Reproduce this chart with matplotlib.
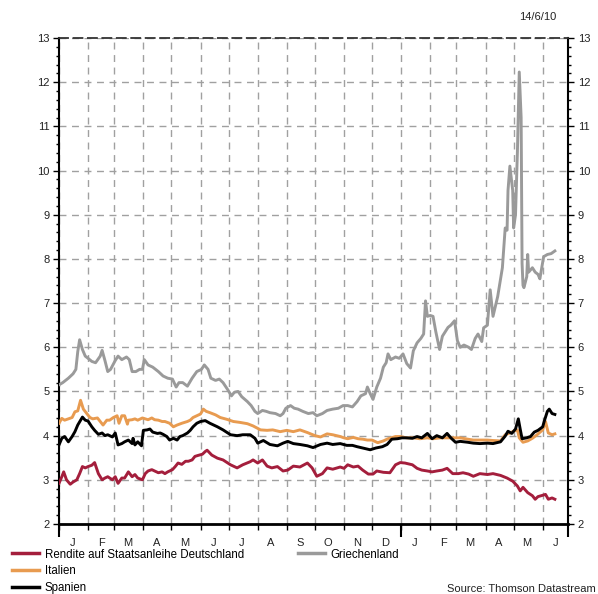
import pandas as pd
import matplotlib
matplotlib.use('Agg')
import matplotlib.pyplot as plt
import matplotlib.dates as mdates
from matplotlib.ticker import MultipleLocator, FixedLocator, NullFormatter
from matplotlib.lines import Line2D

plt.rcParams['font.family'] = ['Liberation Sans', 'DejaVu Sans']
plt.rcParams['font.size'] = 8

# ---- data (10y government bond yields, %) ----
gr_dates = [
    '2009-01-01', '2009-01-05', '2009-01-11', '2009-01-16', '2009-01-19', '2009-01-21', '2009-01-23',
    '2009-01-26', '2009-01-29', '2009-02-01', '2009-02-05', '2009-02-09', '2009-02-14', '2009-02-16',
    '2009-02-19', '2009-02-22', '2009-02-25', '2009-03-02', '2009-03-05', '2009-03-09', '2009-03-14',
    '2009-03-17', '2009-03-20', '2009-03-24', '2009-03-28', '2009-03-31', '2009-04-02', '2009-04-06',
    '2009-04-11', '2009-04-17', '2009-04-22', '2009-04-27', '2009-05-02', '2009-05-06', '2009-05-09',
    '2009-05-13', '2009-05-18', '2009-05-23', '2009-05-28', '2009-06-02', '2009-06-05', '2009-06-09',
    '2009-06-12', '2009-06-17', '2009-06-21', '2009-06-25', '2009-06-30', '2009-07-04', '2009-07-07',
    '2009-07-11', '2009-07-15', '2009-07-21', '2009-07-25', '2009-07-29', '2009-08-01', '2009-08-06',
    '2009-08-10', '2009-08-14', '2009-08-20', '2009-08-25', '2009-08-28', '2009-08-31', '2009-09-05',
    '2009-09-09', '2009-09-13', '2009-09-18', '2009-09-24', '2009-09-29', '2009-10-03', '2009-10-09',
    '2009-10-14', '2009-10-20', '2009-10-26', '2009-10-31', '2009-11-05', '2009-11-10', '2009-11-15',
    '2009-11-19', '2009-11-24', '2009-11-26', '2009-11-29', '2009-12-02', '2009-12-06', '2009-12-10',
    '2009-12-13', '2009-12-16', '2009-12-18', '2009-12-21', '2009-12-26', '2009-12-30', '2010-01-03',
    '2010-01-07', '2010-01-11', '2010-01-14', '2010-01-18', '2010-01-22', '2010-01-25', '2010-01-27',
    '2010-01-29', '2010-02-01', '2010-02-04', '2010-02-07', '2010-02-11', '2010-02-14', '2010-02-17',
    '2010-02-20', '2010-02-23', '2010-02-27', '2010-03-02', '2010-03-05', '2010-03-09', '2010-03-14',
    '2010-03-17', '2010-03-21', '2010-03-24', '2010-03-28', '2010-03-30', '2010-04-03', '2010-04-06',
    '2010-04-09', '2010-04-14', '2010-04-19', '2010-04-22', '2010-04-24', '2010-04-25', '2010-04-27',
    '2010-04-30', '2010-05-01', '2010-05-03', '2010-05-05', '2010-05-07', '2010-05-09', '2010-05-10',
    '2010-05-11', '2010-05-12', '2010-05-15', '2010-05-16', '2010-05-17', '2010-05-21', '2010-05-24',
    '2010-05-27', '2010-05-29', '2010-06-02', '2010-06-06', '2010-06-10', '2010-06-14']
gr_vals = [
    5.15, 5.20, 5.30, 5.40, 5.50, 5.90, 6.17, 5.95, 5.80, 5.75, 5.68, 5.65, 5.80, 5.93,
    5.70, 5.45, 5.50, 5.70, 5.80, 5.72, 5.78, 5.72, 5.45, 5.45, 5.50, 5.50, 5.72, 5.60,
    5.55, 5.45, 5.35, 5.30, 5.28, 5.10, 5.20, 5.20, 5.12, 5.30, 5.45, 5.50, 5.60, 5.50,
    5.30, 5.25, 5.28, 5.20, 5.04, 4.90, 4.98, 5.00, 4.88, 4.77, 4.68, 4.55, 4.50, 4.57,
    4.55, 4.52, 4.50, 4.45, 4.50, 4.62, 4.68, 4.62, 4.60, 4.55, 4.50, 4.52, 4.45, 4.50,
    4.57, 4.60, 4.62, 4.68, 4.68, 4.65, 4.77, 4.90, 4.95, 5.10, 4.95, 4.82, 5.10, 5.30,
    5.55, 5.65, 5.85, 5.72, 5.78, 5.75, 5.85, 5.63, 5.53, 5.92, 6.10, 6.20, 6.30, 7.05,
    6.70, 6.72, 6.70, 6.35, 5.95, 6.25, 6.35, 6.45, 6.50, 6.60, 6.15, 6.00, 6.05, 6.00,
    5.95, 6.20, 6.30, 6.13, 6.44, 6.50, 7.30, 6.70, 7.15, 7.80, 8.70, 8.65, 9.55, 10.10,
    9.55, 8.70, 9.00, 10.40, 12.23, 11.20, 7.90, 7.40, 7.35, 7.60, 8.10, 7.70, 7.80, 7.70,
    7.65, 7.55, 8.05, 8.10, 8.12, 8.18]

it_dates = [
    '2009-01-01', '2009-01-04', '2009-01-07', '2009-01-11', '2009-01-15', '2009-01-18', '2009-01-21',
    '2009-01-24', '2009-01-27', '2009-01-31', '2009-02-03', '2009-02-06', '2009-02-11', '2009-02-14',
    '2009-02-17', '2009-02-21', '2009-02-24', '2009-02-28', '2009-03-04', '2009-03-06', '2009-03-09',
    '2009-03-12', '2009-03-15', '2009-03-16', '2009-03-20', '2009-03-23', '2009-03-26', '2009-03-31',
    '2009-04-03', '2009-04-06', '2009-04-10', '2009-04-13', '2009-04-17', '2009-04-21', '2009-04-24',
    '2009-04-29', '2009-05-03', '2009-05-07', '2009-05-12', '2009-05-18', '2009-05-21', '2009-05-24',
    '2009-05-28', '2009-06-01', '2009-06-04', '2009-06-07', '2009-06-11', '2009-06-17', '2009-06-22',
    '2009-06-29', '2009-07-06', '2009-07-13', '2009-07-21', '2009-07-27', '2009-08-04', '2009-08-11',
    '2009-08-17', '2009-08-25', '2009-09-01', '2009-09-08', '2009-09-15', '2009-09-23', '2009-10-01',
    '2009-10-07', '2009-10-14', '2009-10-20', '2009-10-28', '2009-11-01', '2009-11-05', '2009-11-11',
    '2009-11-16', '2009-11-21', '2009-11-26', '2009-12-01', '2009-12-07', '2009-12-13', '2009-12-18',
    '2009-12-26', '2009-12-31', '2010-01-07', '2010-01-14', '2010-01-21', '2010-01-29', '2010-02-04',
    '2010-02-12', '2010-02-19', '2010-02-26', '2010-03-05', '2010-03-13', '2010-03-19', '2010-03-26',
    '2010-04-03', '2010-04-09', '2010-04-17', '2010-04-22', '2010-04-27', '2010-05-03', '2010-05-05',
    '2010-05-07', '2010-05-11', '2010-05-16', '2010-05-21', '2010-05-26', '2010-06-01', '2010-06-04',
    '2010-06-07', '2010-06-11', '2010-06-14']
it_vals = [
    4.28, 4.39, 4.35, 4.38, 4.41, 4.54, 4.56, 4.80, 4.60, 4.49, 4.41, 4.38, 4.40, 4.32,
    4.24, 4.35, 4.35, 4.41, 4.45, 4.28, 4.45, 4.45, 4.26, 4.35, 4.36, 4.38, 4.35, 4.40,
    4.38, 4.36, 4.40, 4.36, 4.35, 4.32, 4.32, 4.28, 4.20, 4.24, 4.28, 4.32, 4.35, 4.41,
    4.45, 4.49, 4.60, 4.55, 4.52, 4.47, 4.41, 4.37, 4.32, 4.30, 4.27, 4.22, 4.13, 4.12,
    4.13, 4.09, 4.12, 4.09, 4.13, 4.07, 4.00, 3.97, 4.04, 4.02, 3.98, 3.95, 3.93, 3.96,
    3.93, 3.92, 3.90, 3.90, 3.84, 3.88, 3.93, 3.98, 3.98, 3.95, 3.95, 3.93, 3.95, 3.93,
    3.95, 3.95, 3.95, 3.95, 3.92, 3.90, 3.90, 3.90, 3.89, 3.88, 4.02, 4.06, 4.12, 4.13,
    3.95, 3.85, 3.88, 3.94, 4.02, 4.13, 4.32, 4.06, 4.02, 4.04]

es_dates = [
    '2009-01-01', '2009-01-04', '2009-01-07', '2009-01-11', '2009-01-15', '2009-01-18', '2009-01-21',
    '2009-01-26', '2009-01-29', '2009-02-01', '2009-02-05', '2009-02-08', '2009-02-12', '2009-02-16',
    '2009-02-19', '2009-02-22', '2009-02-27', '2009-03-02', '2009-03-05', '2009-03-09', '2009-03-12',
    '2009-03-16', '2009-03-20', '2009-03-21', '2009-03-23', '2009-03-26', '2009-03-30', '2009-04-01',
    '2009-04-05', '2009-04-08', '2009-04-11', '2009-04-16', '2009-04-19', '2009-04-22', '2009-04-26',
    '2009-04-29', '2009-05-03', '2009-05-07', '2009-05-10', '2009-05-13', '2009-05-18', '2009-05-21',
    '2009-05-24', '2009-05-28', '2009-06-01', '2009-06-06', '2009-06-11', '2009-06-19', '2009-06-25',
    '2009-07-03', '2009-07-10', '2009-07-16', '2009-07-24', '2009-07-29', '2009-08-01', '2009-08-07',
    '2009-08-14', '2009-08-22', '2009-08-28', '2009-09-02', '2009-09-08', '2009-09-15', '2009-09-23',
    '2009-09-29', '2009-10-07', '2009-10-14', '2009-10-20', '2009-10-28', '2009-11-04', '2009-11-10',
    '2009-11-15', '2009-11-21', '2009-11-29', '2009-12-05', '2009-12-12', '2009-12-17', '2009-12-22',
    '2009-12-28', '2010-01-02', '2010-01-07', '2010-01-13', '2010-01-18', '2010-01-23', '2010-01-29',
    '2010-02-03', '2010-02-08', '2010-02-14', '2010-02-19', '2010-02-23', '2010-02-28', '2010-03-05',
    '2010-03-13', '2010-03-19', '2010-03-26', '2010-04-03', '2010-04-09', '2010-04-17', '2010-04-22',
    '2010-04-25', '2010-04-29', '2010-05-03', '2010-05-06', '2010-05-08', '2010-05-10', '2010-05-15',
    '2010-05-19', '2010-05-23', '2010-05-27', '2010-06-01', '2010-06-03', '2010-06-06', '2010-06-08',
    '2010-06-11', '2010-06-14']
es_vals = [
    3.79, 3.94, 3.98, 3.86, 3.98, 4.09, 4.24, 4.42, 4.35, 4.33, 4.20, 4.12, 4.03, 4.06,
    4.00, 4.02, 3.97, 4.06, 3.79, 3.82, 3.86, 3.90, 3.82, 3.94, 3.79, 3.86, 3.77, 4.12,
    4.13, 4.15, 4.08, 4.05, 4.06, 4.03, 3.98, 3.90, 3.94, 3.90, 3.98, 4.00, 4.06, 4.12,
    4.20, 4.28, 4.32, 4.34, 4.28, 4.20, 4.13, 4.02, 4.00, 4.02, 4.02, 3.94, 3.83, 3.89,
    3.80, 3.77, 3.83, 3.87, 3.82, 3.80, 3.77, 3.73, 3.80, 3.83, 3.80, 3.82, 3.78, 3.78,
    3.75, 3.72, 3.68, 3.72, 3.75, 3.80, 3.92, 3.93, 3.95, 3.95, 3.94, 3.98, 3.95, 4.05,
    3.93, 4.00, 3.95, 4.05, 3.95, 3.85, 3.87, 3.85, 3.83, 3.82, 3.83, 3.82, 3.86, 3.99,
    4.10, 4.05, 4.15, 4.38, 4.15, 3.93, 3.95, 3.98, 4.08, 4.12, 4.20, 4.35, 4.55, 4.60,
    4.50, 4.48]

de_dates = [
    '2009-01-01', '2009-01-04', '2009-01-06', '2009-01-09', '2009-01-13', '2009-01-16', '2009-01-20',
    '2009-01-23', '2009-01-26', '2009-01-29', '2009-02-01', '2009-02-05', '2009-02-08', '2009-02-12',
    '2009-02-16', '2009-02-19', '2009-02-22', '2009-02-27', '2009-03-02', '2009-03-05', '2009-03-09',
    '2009-03-12', '2009-03-16', '2009-03-20', '2009-03-23', '2009-03-26', '2009-03-31', '2009-04-03',
    '2009-04-06', '2009-04-10', '2009-04-13', '2009-04-17', '2009-04-21', '2009-04-24', '2009-04-27',
    '2009-05-02', '2009-05-05', '2009-05-08', '2009-05-12', '2009-05-16', '2009-05-19', '2009-05-23',
    '2009-05-26', '2009-05-29', '2009-06-03', '2009-06-06', '2009-06-08', '2009-06-13', '2009-06-19',
    '2009-06-25', '2009-07-03', '2009-07-10', '2009-07-16', '2009-07-24', '2009-07-27', '2009-08-01',
    '2009-08-06', '2009-08-11', '2009-08-16', '2009-08-22', '2009-08-28', '2009-09-02', '2009-09-08',
    '2009-09-15', '2009-09-23', '2009-09-28', '2009-10-03', '2009-10-09', '2009-10-14', '2009-10-20',
    '2009-10-28', '2009-11-01', '2009-11-05', '2009-11-11', '2009-11-16', '2009-11-21', '2009-11-27',
    '2009-12-02', '2009-12-06', '2009-12-13', '2009-12-20', '2009-12-26', '2009-12-31', '2010-01-05',
    '2010-01-13', '2010-01-18', '2010-01-23', '2010-01-29', '2010-02-03', '2010-02-08', '2010-02-14',
    '2010-02-19', '2010-02-25', '2010-03-03', '2010-03-08', '2010-03-14', '2010-03-19', '2010-03-26',
    '2010-04-03', '2010-04-09', '2010-04-17', '2010-04-24', '2010-04-30', '2010-05-05', '2010-05-08',
    '2010-05-11', '2010-05-16', '2010-05-21', '2010-05-24', '2010-05-27', '2010-06-01', '2010-06-04',
    '2010-06-07', '2010-06-11', '2010-06-14']
de_vals = [
    2.92, 3.07, 3.18, 3.00, 2.90, 2.95, 3.00, 3.14, 3.30, 3.27, 3.30, 3.33, 3.39, 3.14,
    3.00, 3.04, 3.07, 3.00, 3.07, 2.92, 3.04, 3.04, 3.18, 3.07, 3.12, 3.04, 3.00, 3.14,
    3.20, 3.23, 3.20, 3.16, 3.18, 3.14, 3.18, 3.23, 3.30, 3.38, 3.35, 3.42, 3.42, 3.45,
    3.53, 3.55, 3.58, 3.64, 3.67, 3.56, 3.49, 3.45, 3.34, 3.27, 3.34, 3.41, 3.45, 3.38,
    3.45, 3.31, 3.27, 3.30, 3.20, 3.22, 3.31, 3.29, 3.38, 3.27, 3.08, 3.14, 3.27, 3.24,
    3.29, 3.26, 3.34, 3.29, 3.31, 3.22, 3.13, 3.13, 3.20, 3.17, 3.16, 3.34, 3.39, 3.38,
    3.34, 3.26, 3.22, 3.20, 3.18, 3.20, 3.22, 3.26, 3.14, 3.14, 3.16, 3.13, 3.08, 3.14,
    3.12, 3.14, 3.10, 3.04, 2.97, 2.86, 2.75, 2.83, 2.71, 2.64, 2.56, 2.62, 2.65, 2.67,
    2.56, 2.59, 2.56]

labels = ['Rendite auf Staatsanleihe Deutschland', 'Italien', 'Spanien', 'Griechenland']
colors = ['#a41e3c', '#e89b50', '#000000', '#9a9a9a']
month_letters = list('JFMAMJJASOND')
x_start, x_end = '2009-01-01', '2010-06-28'
stamp = '14/6/10'
source = 'Source: Thomson Datastream'

# ---- figure ----
fig = plt.figure(figsize=(5.98, 5.94), dpi=100)
ax = fig.add_axes([59 / 598, 1 - 524 / 594, (568 - 59) / 598, (524 - 38) / 594])

series = [(de_dates, de_vals), (it_dates, it_vals), (es_dates, es_vals), (gr_dates, gr_vals)]
for (d, v), c in zip(series, colors):
    ax.plot(pd.to_datetime(d), v, color=c, lw=2.1, solid_joinstyle='round', zorder=3)

ax.set_xlim(pd.Timestamp(x_start), pd.Timestamp(x_end))
ax.set_ylim(2, 13)

# y axis: labels both sides
ax.yaxis.set_major_locator(MultipleLocator(1))
ax.yaxis.set_minor_locator(MultipleLocator(0.2))
ax.tick_params(axis='y', which='both', left=True, right=True,
               labelleft=True, labelright=True, direction='out',
               colors='black', labelcolor='#222222', pad=3)
ax.tick_params(axis='y', which='major', length=4, width=1)
ax.tick_params(axis='y', which='minor', length=2.5, width=1)

# x axis: ticks at month starts, letters at mid month
ax.xaxis.set_major_locator(mdates.MonthLocator())
ax.xaxis.set_major_formatter(NullFormatter())
ax.xaxis.set_minor_locator(mdates.MonthLocator(bymonthday=15))
ax.xaxis.set_minor_formatter(
    plt.FuncFormatter(lambda x, pos: month_letters[mdates.num2date(x).month - 1]))
ax.tick_params(axis='x', which='major', length=4, width=1, direction='out')
ax.tick_params(axis='x', which='minor', length=0, pad=10, labelcolor='#222222')

# longer ticks at year boundaries and axis end
ax2 = ax.twiny()
ax2.set_xlim(ax.get_xlim())
ax2.xaxis.set_ticks_position('bottom')
ax2.xaxis.set_major_locator(FixedLocator(
    mdates.date2num(pd.to_datetime([x_start, '2010-01-01', x_end]))))
ax2.xaxis.set_major_formatter(NullFormatter())
ax2.tick_params(axis='x', length=9, width=1.5, direction='out')
for s in ax2.spines.values():
    s.set_visible(False)

ax.grid(True, which='major', color='#a0a0a0', linestyle=(0, (5, 4)), linewidth=1)
ax.set_axisbelow(True)
for side in ['left', 'right']:
    ax.spines[side].set_linewidth(1.5)
ax.spines['bottom'].set_linewidth(2)
ax.spines['top'].set_linestyle((0, (5, 3)))
ax.spines['top'].set_color('#333333')
ax.spines['top'].set_linewidth(1.3)

# legend
handles = [Line2D([], [], color=c, lw=2.5) for c in colors]
leg_kw = dict(frameon=False, fontsize=8.3, handlelength=2.3, handletextpad=0.55,
              labelspacing=0.42, borderpad=0, borderaxespad=0, loc='upper left')
fig.legend(handles[:3], labels[:3], bbox_to_anchor=(12 / 598, 1 - 548.5 / 594), **leg_kw)
fig.legend(handles[3:], labels[3:], bbox_to_anchor=(298 / 598, 1 - 548.5 / 594), **leg_kw)

fig.text(556 / 598, 1 - 17 / 594, stamp, ha='right', va='center', color='#222222')
fig.text(596 / 598, 1 - 589 / 594, source, ha='right', va='center', color='#222222')

fig.savefig('out.png', dpi=100)
